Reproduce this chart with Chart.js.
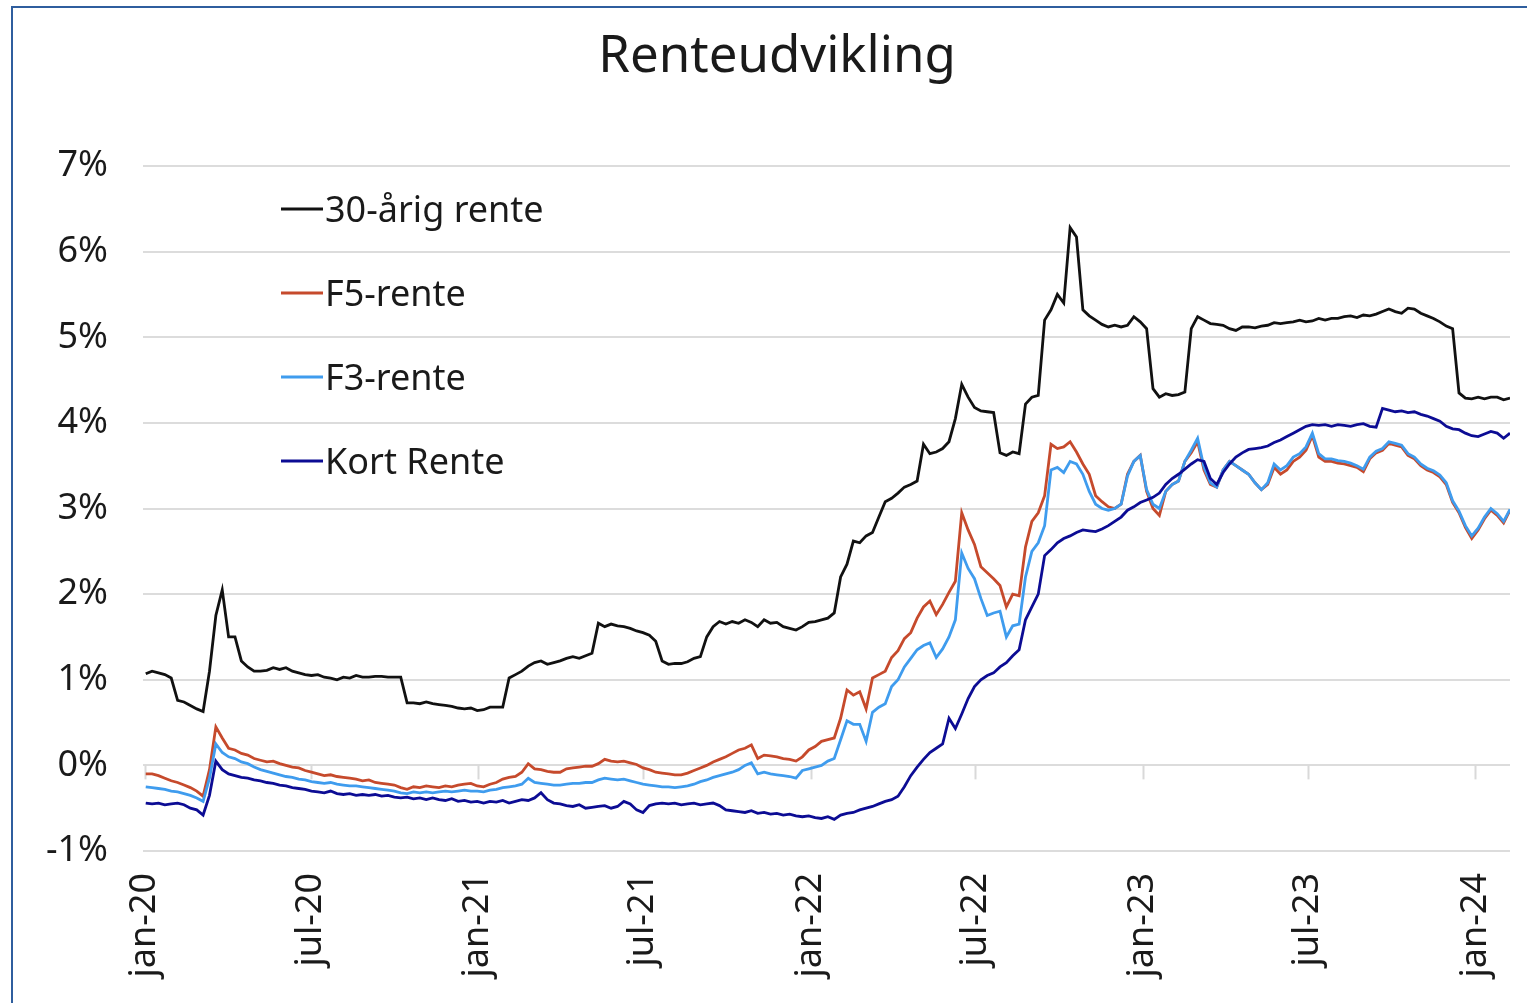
<!DOCTYPE html>
<html>
<head>
<meta charset="utf-8">
<title>Renteudvikling</title>
<script src="https://cdn.jsdelivr.net/npm/chart.js@4.4.1/dist/chart.umd.min.js"></script>
<style>
    html, body { margin: 0; padding: 0; background: #fff; overflow: hidden; }
    #wrap { position: relative; width: 1527px; height: 1003px; }
    #frame { position: absolute; left: 11px; top: 6px; width: 1600px; height: 1100px; border: 2px solid #2f5e9e; box-sizing: border-box; }
    #chart { position: absolute; left: 0; top: 0; }
</style>
</head>
<body>
<div id="wrap">
    <div id="frame"></div>
    <canvas id="chart" width="1527" height="1003"></canvas>
</div>
<script>
// weekly observations, first one on 2 jan 2020 (day 1 counted from 1 jan 2020)
var startDay = 1
var stepDays = 7

var chartTitle = 'Renteudvikling'
var seriesNames = ['30-årig rente', 'F5-rente', 'F3-rente', 'Kort Rente']

// x-axis ticks (days since 1 jan 2020) and their labels
var tickDays = [0, 182, 366, 547, 731, 912, 1096, 1277, 1461]
var tickLabels = ['jan-20', 'jul-20', 'jan-21', 'jul-21', 'jan-22', 'jul-22', 'jan-23', 'jul-23', 'jan-24']

var rente30 = [
    1.07, 1.10, 1.08, 1.06, 1.02, 0.76, 0.74, 0.70, 0.66, 0.63,
    1.10, 1.75, 2.05, 1.50, 1.50, 1.22, 1.15, 1.10, 1.10, 1.11,
    1.14, 1.12, 1.14, 1.10, 1.08, 1.06, 1.05, 1.06, 1.03, 1.02,
    1.00, 1.03, 1.02, 1.05, 1.03, 1.03, 1.04, 1.04, 1.03, 1.03,
    1.03, 0.73, 0.73, 0.72, 0.74, 0.72, 0.71, 0.70, 0.69, 0.67,
    0.66, 0.67, 0.64, 0.65, 0.68, 0.68, 0.68, 1.02, 1.06, 1.10,
    1.16, 1.20, 1.22, 1.18, 1.20, 1.22, 1.25, 1.27, 1.25, 1.28,
    1.31, 1.66, 1.62, 1.65, 1.63, 1.62, 1.60, 1.57, 1.55, 1.52,
    1.45, 1.22, 1.18, 1.19, 1.19, 1.21, 1.25, 1.27, 1.50, 1.62,
    1.68, 1.65, 1.68, 1.66, 1.70, 1.67, 1.62, 1.70, 1.66, 1.67,
    1.62, 1.60, 1.58, 1.62, 1.67, 1.68, 1.70, 1.72, 1.78, 2.20,
    2.35, 2.62, 2.60, 2.68, 2.72, 2.90, 3.08, 3.12, 3.18, 3.25,
    3.28, 3.32, 3.75, 3.64, 3.66, 3.70, 3.78, 4.05, 4.45, 4.30,
    4.18, 4.14, 4.13, 4.12, 3.65, 3.62, 3.66, 3.64, 4.22, 4.30,
    4.32, 5.20, 5.32, 5.50, 5.40, 6.28, 6.17, 5.32, 5.25, 5.20,
    5.15, 5.12, 5.14, 5.12, 5.14, 5.24, 5.18, 5.10, 4.40, 4.30,
    4.34, 4.32, 4.33, 4.36, 5.10, 5.24, 5.20, 5.16, 5.15, 5.14,
    5.10, 5.08, 5.12, 5.12, 5.11, 5.13, 5.14, 5.17, 5.16, 5.17,
    5.18, 5.20, 5.18, 5.19, 5.22, 5.20, 5.22, 5.22, 5.24, 5.25,
    5.23, 5.26, 5.25, 5.27, 5.30, 5.33, 5.30, 5.28, 5.34, 5.33,
    5.28, 5.25, 5.22, 5.18, 5.13, 5.10, 4.35, 4.29, 4.28, 4.30,
    4.28, 4.30, 4.30, 4.27, 4.29
]

var f5 = [
    -0.10, -0.10, -0.12, -0.15, -0.18, -0.20, -0.23, -0.26, -0.30, -0.36,
    -0.05, 0.45, 0.32, 0.20, 0.18, 0.14, 0.12, 0.08, 0.06, 0.04,
    0.05, 0.02, 0.00, -0.02, -0.03, -0.06, -0.08, -0.10, -0.12, -0.11,
    -0.13, -0.14, -0.15, -0.16, -0.18, -0.17, -0.20, -0.21, -0.22, -0.23,
    -0.26, -0.28, -0.25, -0.26, -0.24, -0.25, -0.26, -0.24, -0.25, -0.23,
    -0.22, -0.21, -0.24, -0.25, -0.22, -0.20, -0.16, -0.14, -0.13, -0.08,
    0.02, -0.04, -0.05, -0.07, -0.08, -0.08, -0.04, -0.03, -0.02, -0.01,
    -0.01, 0.02, 0.07, 0.05, 0.04, 0.05, 0.03, 0.01, -0.03, -0.05,
    -0.08, -0.09, -0.10, -0.11, -0.11, -0.09, -0.06, -0.03, 0.00, 0.04,
    0.07, 0.10, 0.14, 0.18, 0.20, 0.24, 0.08, 0.12, 0.11, 0.10,
    0.08, 0.07, 0.05, 0.10, 0.18, 0.22, 0.28, 0.30, 0.32, 0.55,
    0.88, 0.82, 0.86, 0.66, 1.02, 1.06, 1.10, 1.26, 1.34, 1.48,
    1.55, 1.72, 1.85, 1.92, 1.76, 1.88, 2.02, 2.15, 2.95, 2.75,
    2.58, 2.32, 2.25, 2.18, 2.10, 1.85, 2.00, 1.98, 2.55, 2.85,
    2.95, 3.15, 3.75, 3.70, 3.72, 3.78, 3.66, 3.52, 3.40, 3.15,
    3.08, 3.02, 3.00, 3.05, 3.40, 3.55, 3.62, 3.20, 3.00, 2.92,
    3.20, 3.28, 3.32, 3.55, 3.65, 3.78, 3.45, 3.28, 3.25, 3.45,
    3.55, 3.50, 3.45, 3.40, 3.30, 3.22, 3.28, 3.48, 3.40, 3.45,
    3.55, 3.60, 3.68, 3.85, 3.60, 3.55, 3.55, 3.53, 3.52, 3.50,
    3.48, 3.43, 3.58, 3.65, 3.68, 3.76, 3.74, 3.72, 3.62, 3.58,
    3.50, 3.45, 3.42, 3.37, 3.28, 3.07, 2.95, 2.78, 2.65, 2.75,
    2.88, 2.98, 2.92, 2.83, 2.98
]

var f3 = [
    -0.25, -0.26, -0.27, -0.28, -0.30, -0.31, -0.33, -0.35, -0.38, -0.42,
    -0.15, 0.25, 0.15, 0.10, 0.08, 0.04, 0.02, -0.02, -0.05, -0.07,
    -0.09, -0.11, -0.13, -0.14, -0.16, -0.17, -0.19, -0.20, -0.21, -0.20,
    -0.22, -0.23, -0.24, -0.24, -0.25, -0.26, -0.27, -0.28, -0.29, -0.30,
    -0.32, -0.33, -0.31, -0.32, -0.31, -0.32, -0.31, -0.30, -0.31, -0.30,
    -0.29, -0.30, -0.30, -0.31, -0.29, -0.28, -0.26, -0.25, -0.24, -0.22,
    -0.15, -0.20, -0.21, -0.22, -0.23, -0.23, -0.22, -0.21, -0.21, -0.20,
    -0.20, -0.17, -0.15, -0.16, -0.17, -0.16, -0.18, -0.20, -0.22, -0.23,
    -0.24, -0.25, -0.25, -0.26, -0.25, -0.24, -0.22, -0.19, -0.17, -0.14,
    -0.12, -0.10, -0.08, -0.05, 0.00, 0.03, -0.10, -0.08, -0.10, -0.11,
    -0.12, -0.13, -0.15, -0.06, -0.04, -0.02, 0.00, 0.05, 0.08, 0.30,
    0.52, 0.48, 0.48, 0.28, 0.62, 0.68, 0.72, 0.92, 1.00, 1.15,
    1.25, 1.35, 1.40, 1.43, 1.26, 1.36, 1.50, 1.70, 2.48, 2.30,
    2.18, 1.95, 1.75, 1.78, 1.80, 1.50, 1.63, 1.65, 2.20, 2.50,
    2.60, 2.80, 3.45, 3.48, 3.42, 3.55, 3.52, 3.40, 3.20, 3.05,
    3.00, 2.98, 3.00, 3.05, 3.38, 3.55, 3.62, 3.22, 3.05, 3.00,
    3.20, 3.28, 3.32, 3.55, 3.68, 3.82, 3.48, 3.30, 3.25, 3.45,
    3.55, 3.50, 3.45, 3.40, 3.30, 3.22, 3.30, 3.52, 3.45, 3.50,
    3.60, 3.64, 3.72, 3.88, 3.64, 3.58, 3.58, 3.56, 3.55, 3.53,
    3.50, 3.46, 3.60, 3.67, 3.70, 3.78, 3.76, 3.74, 3.64, 3.60,
    3.52, 3.47, 3.44, 3.39, 3.30, 3.09, 2.97, 2.80, 2.68, 2.77,
    2.90, 3.00, 2.94, 2.85, 2.99
]

var kort = [
    -0.44, -0.45, -0.44, -0.46, -0.45, -0.44, -0.46, -0.50, -0.52, -0.58,
    -0.35, 0.05, -0.05, -0.10, -0.12, -0.14, -0.15, -0.17, -0.18, -0.20,
    -0.21, -0.23, -0.24, -0.26, -0.27, -0.28, -0.30, -0.31, -0.32, -0.30,
    -0.33, -0.34, -0.33, -0.35, -0.34, -0.35, -0.34, -0.36, -0.35, -0.37,
    -0.38, -0.37, -0.39, -0.38, -0.40, -0.38, -0.40, -0.41, -0.39, -0.42,
    -0.41, -0.43, -0.42, -0.44, -0.42, -0.43, -0.41, -0.44, -0.42, -0.40,
    -0.41, -0.38, -0.32, -0.40, -0.44, -0.45, -0.47, -0.48, -0.46, -0.50,
    -0.49, -0.48, -0.47, -0.50, -0.48, -0.42, -0.45, -0.52, -0.55, -0.47,
    -0.45, -0.44, -0.45, -0.44, -0.46, -0.45, -0.44, -0.46, -0.45, -0.44,
    -0.47, -0.52, -0.53, -0.54, -0.55, -0.53, -0.56, -0.55, -0.57, -0.56,
    -0.58, -0.57, -0.59, -0.60, -0.59, -0.61, -0.62, -0.60, -0.63, -0.58,
    -0.56, -0.55, -0.52, -0.50, -0.48, -0.45, -0.42, -0.40, -0.36, -0.25,
    -0.12, -0.02, 0.07, 0.15, 0.20, 0.25, 0.55, 0.43, 0.60, 0.78,
    0.92, 1.00, 1.05, 1.08, 1.15, 1.20, 1.28, 1.35, 1.70, 1.85,
    2.00, 2.45, 2.52, 2.60, 2.65, 2.68, 2.72, 2.75, 2.74, 2.73,
    2.76, 2.80, 2.85, 2.90, 2.98, 3.02, 3.07, 3.10, 3.13, 3.18,
    3.28, 3.35, 3.40, 3.46, 3.52, 3.57, 3.55, 3.35, 3.28, 3.42,
    3.52, 3.60, 3.65, 3.69, 3.70, 3.71, 3.73, 3.77, 3.80, 3.84,
    3.88, 3.92, 3.96, 3.98, 3.97, 3.98, 3.96, 3.98, 3.97, 3.96,
    3.98, 3.99, 3.96, 3.95, 4.17, 4.15, 4.13, 4.14, 4.12, 4.13,
    4.10, 4.08, 4.05, 4.02, 3.96, 3.93, 3.92, 3.88, 3.85, 3.84,
    3.87, 3.90, 3.88, 3.82, 3.88
]

var lineColors = ['#111111', '#c64a2c', '#3f9cee', '#0c0c94']
var fontFamily = '"Noto Sans", "DejaVu Sans", sans-serif'

function toPoints(values) {
    return values.map(function (v, i) {
        return { x: startDay + stepDays * i, y: v }
    })
}

// title, legend inside the plot and the little tick marks on the 0% line
var decorPlugin = {
    id: 'decor',
    beforeDatasetsDraw: function (chart) {
        var ctx = chart.ctx
        var xs = chart.scales.x
        var y0 = chart.scales.y.getPixelForValue(0)
        ctx.save()
        ctx.strokeStyle = '#d9d9d9'
        ctx.lineWidth = 2
        tickDays.forEach(function (d) {
            var px = Math.round(xs.getPixelForValue(d)) + 0.5
            ctx.beginPath()
            ctx.moveTo(px, y0)
            ctx.lineTo(px, y0 + 14)
            ctx.stroke()
        })
        ctx.restore()
    },
    afterDraw: function (chart) {
        var ctx = chart.ctx
        ctx.save()
        ctx.fillStyle = '#1a1a1a'
        ctx.textAlign = 'center'
        ctx.textBaseline = 'alphabetic'
        ctx.font = '51px ' + fontFamily
        ctx.fillText(chartTitle, 777, 72)

        ctx.textAlign = 'left'
        ctx.font = '36px ' + fontFamily
        chart.data.datasets.forEach(function (ds, k) {
            var ly = 209 + k * 84
            ctx.strokeStyle = ds.borderColor
            ctx.lineWidth = 3
            ctx.beginPath()
            ctx.moveTo(281, ly)
            ctx.lineTo(323, ly)
            ctx.stroke()
            ctx.fillStyle = '#1a1a1a'
            ctx.fillText(ds.label, 325, ly + 13)
        })
        ctx.restore()
    }
}

var seriesValues = [rente30, f5, f3, kort]
var drawOrder = [3, 2, 1, 0]

var chartData = {
    datasets: seriesValues.map(function (vals, k) {
        return {
            label: seriesNames[k],
            data: toPoints(vals),
            borderColor: lineColors[k],
            backgroundColor: lineColors[k],
            borderWidth: 2.8,
            pointRadius: 0,
            tension: 0,
            fill: false,
            order: drawOrder[k]
        }
    })
}

var chart = new Chart(document.getElementById('chart').getContext('2d'), {
    type: 'line',
    data: chartData,
    plugins: [decorPlugin],
    options: {
        responsive: false,
        animation: false,
        layout: { padding: { top: 166, right: 17, left: 0, bottom: 0 } },
        plugins: {
            legend: { display: false },
            title: { display: false },
            tooltip: { enabled: false }
        },
        scales: {
            x: {
                type: 'linear',
                min: -2,
                max: 1499,
                afterBuildTicks: function (scale) {
                    scale.ticks = tickDays.map(function (d) { return { value: d } })
                },
                afterFit: function (scale) {
                    scale.height = 152
                    scale.paddingLeft = 0
                    scale.paddingRight = 0
                },
                grid: { display: false, drawTicks: false },
                border: { display: false },
                ticks: {
                    autoSkip: false,
                    minRotation: 90,
                    maxRotation: 90,
                    padding: 22,
                    color: '#1a1a1a',
                    font: { family: fontFamily, size: 36 },
                    callback: function (value, index) { return tickLabels[index] }
                }
            },
            y: {
                min: -1,
                max: 7,
                afterFit: function (scale) { scale.width = 143 },
                grid: { color: '#dcdcdc', lineWidth: 2, drawTicks: false },
                border: { display: false },
                ticks: {
                    stepSize: 1,
                    padding: 35,
                    color: '#1a1a1a',
                    font: { family: fontFamily, size: 36 },
                    callback: function (value) { return value + '%' }
                }
            }
        }
    }
})
</script>
</body>
</html>
